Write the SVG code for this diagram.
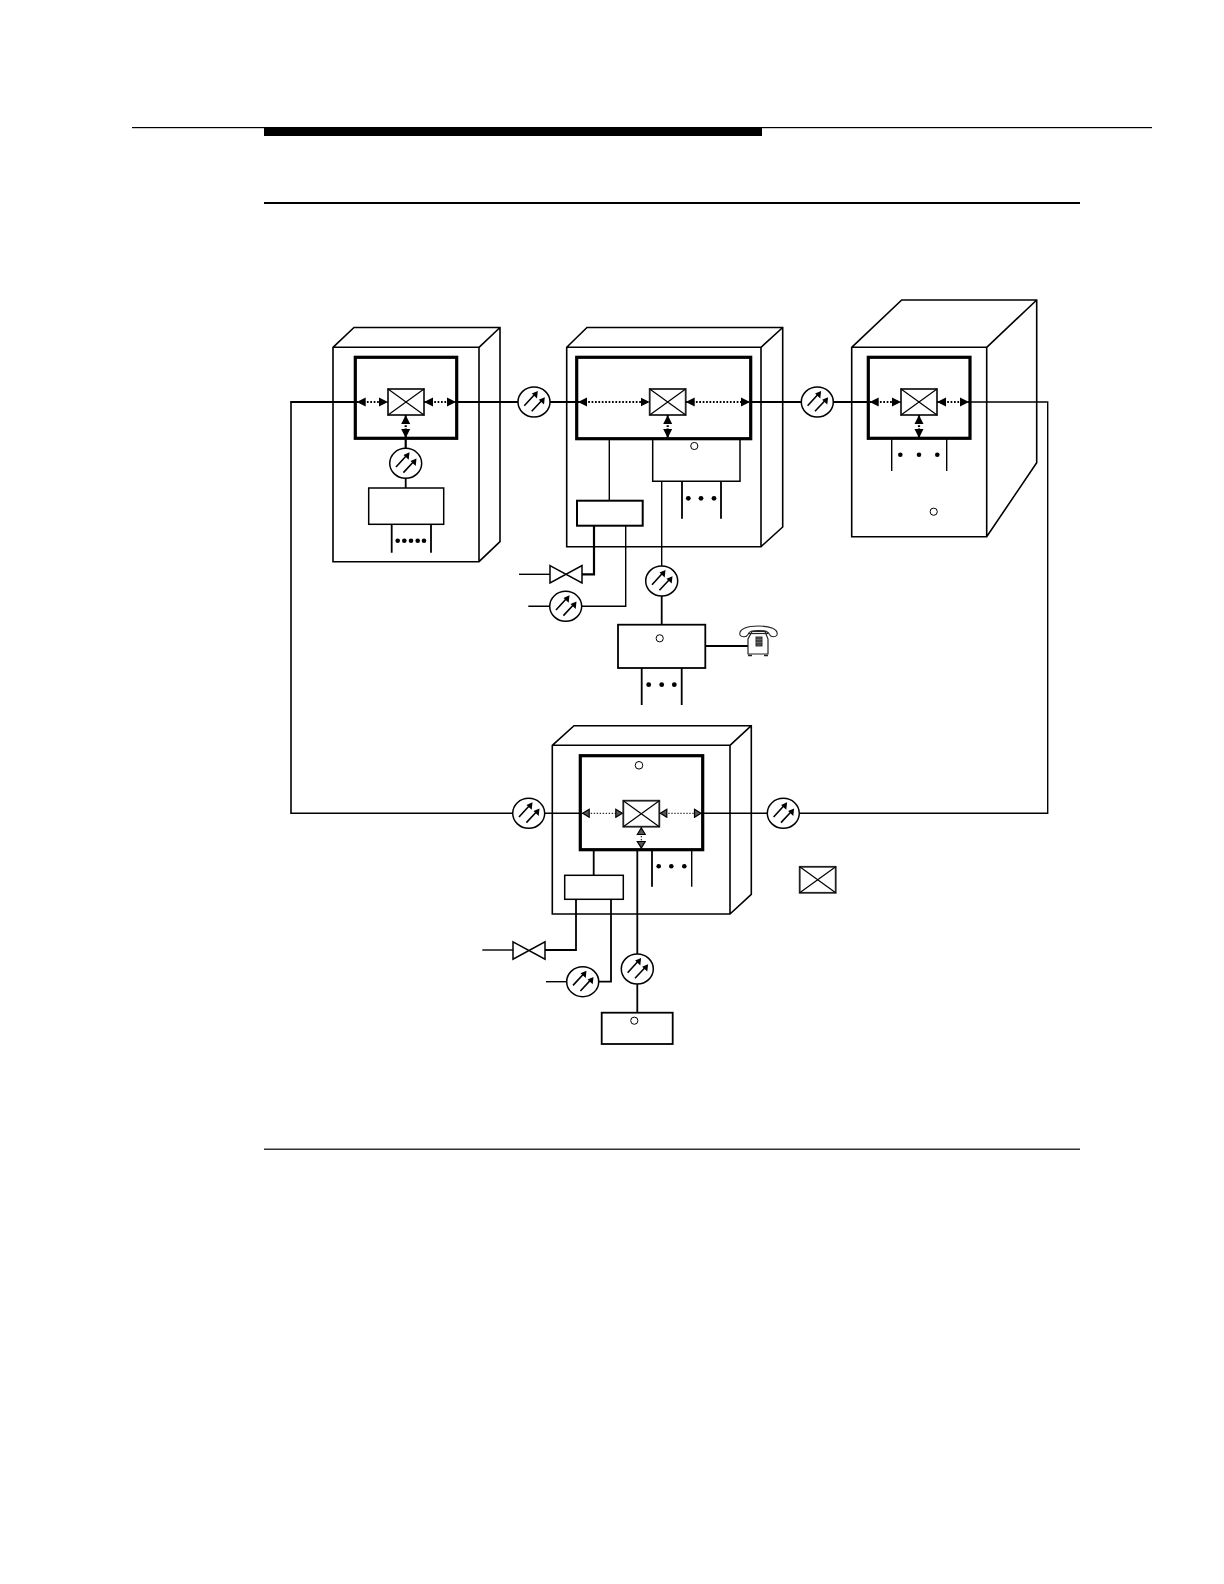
<svg xmlns="http://www.w3.org/2000/svg" width="1224" height="1584" viewBox="0 0 1224 1584">
<style>
.l{fill:none;stroke:#000;stroke-width:1.4}
.m{fill:none;stroke:#000;stroke-width:1.8}
.h{fill:none;stroke:#000;stroke-width:2.2}
.c{fill:none;stroke:#000;stroke-width:1.6}
.b{fill:#fff;stroke:#000;stroke-width:1.5}
.t{fill:none;stroke:#000;stroke-width:3.2}
.d{fill:none;stroke:#000;stroke-width:2.2;stroke-dasharray:1.7 1.7;marker-start:url(#ah);marker-end:url(#ah)}
.d2{fill:none;stroke:#000;stroke-width:1;stroke-dasharray:1.4 1.6;marker-start:url(#ah2);marker-end:url(#ah2)}
.o{fill:#fff;stroke:#000;stroke-width:1}
.dot{fill:#000}
</style>
<defs>
<marker id="ah" markerUnits="userSpaceOnUse" markerWidth="10" markerHeight="10" refX="9" refY="5" orient="auto-start-reverse"><path d="M0 .5L9 5L0 9.5Z" fill="#000"/></marker>
<marker id="ah2" markerUnits="userSpaceOnUse" markerWidth="10" markerHeight="10" refX="9" refY="5" orient="auto-start-reverse"><path d="M1.5 1L8 5L1.5 9Z" fill="#555" stroke="#000" stroke-width="1.2"/></marker>
<g id="gauge">
<ellipse rx="16" ry="15" fill="#fff" stroke="#000" stroke-width="1.5"/>
<path d="M-9.7 3.7L1.5 -8.5M-2.3 9.3L8.5 -2.3" fill="none" stroke="#000" stroke-width="1.6"/>
<path d="M3.8 -11L3 -3.6L-2.2 -8.4ZM10.8 -4.8L10 2.6L4.8 -2.2Z" fill="#000"/>
</g>
<g id="sw">
<rect x="-18" y="-13" width="36" height="26" fill="#fff" stroke="#222" stroke-width="1.8"/>
<path d="M-18 -13L18 13M18 -13L-18 13" fill="none" stroke="#000" stroke-width="1.2"/>
</g>
<path id="bow" d="M-16 -8.7L16 8.7V-8.7L-16 8.7Z" fill="#fff" stroke="#000" stroke-width="1.5"/>
</defs>

<g id="page-rules">
<rect x="132" y="127" width="1020" height="1.2" fill="#000"/>
<rect x="264" y="127" width="498" height="9" fill="#000"/>
<rect x="264" y="202" width="816" height="2" fill="#000"/>
<rect x="264" y="1148.6" width="816" height="1.2" fill="#000"/>
</g>

<g id="cabinet-1">
<path class="c" d="M333 347.3L354 327.5H500V541.7L479 561.7H333ZM333 347.3H479V561.7M479 347.3L500 327.5"/>
</g>
<g id="cabinet-2">
<path class="c" d="M566.7 347.3L587 327.5H782.7V527L761 546.7H566.7ZM566.7 347.3H761V546.7M761 347.3L782.7 327.5"/>
</g>
<g id="cabinet-3">
<path class="c" d="M851.7 347.3L901.7 300H1036.7V462.7L986.7 536.7H851.7ZM851.7 347.3H986.7V536.7M986.7 347.3L1036.7 300"/>
</g>
<g id="cabinet-4">
<path class="c" d="M552.3 745.3L574 725.7H751.3V894.3L730 914H552.3ZM552.3 745.3H730V914M730 745.3L751.3 725.7"/>
</g>

<g id="connectors">
<path class="h" d="M357 402H291"/>
<path class="c" d="M291 401V813.3H513"/>
<path class="h" d="M456 402H518M550 402H577M750 402H801M833 402H869"/>
<path class="l" d="M970 402H1047.7V813.3H799"/>
<path class="l" d="M544.7 813.3H581M702 813.3H767"/>
<path class="h" d="M405.7 438V448"/>
<path class="m" d="M405.7 478V488"/>
<path class="l" d="M609.3 438V500.7"/>
<path class="h" d="M594 525.7V574.3H582"/>
<path class="l" d="M550 574.3H519"/>
<path class="l" d="M625.7 525.7V606.3H581.7M549.7 606.3H528.3"/>
<path class="l" d="M661.7 481V566"/>
<path class="m" d="M661.7 596V624.7"/>
<path class="m" d="M705.3 646H748"/>
<path class="m" d="M593.7 850V875.3"/>
<path class="m" d="M576 899.3V950H544.7"/>
<path class="l" d="M513 950H482.3"/>
<path class="m" d="M611 899.3V981.7H598.7"/>
<path class="l" d="M566.7 981.7H546"/>
<path class="m" d="M637.3 850V954M637.3 984V1012.7"/>
</g>

<g id="node-1">
<rect class="t" x="355.3" y="357.3" width="101.4" height="81"/>
<use href="#sw" x="406" y="402"/>
<line class="d" x1="356.7" y1="402" x2="388" y2="402"/>
<line class="d" x1="424" y1="402" x2="456" y2="402"/>
<line class="d" x1="405.7" y1="415" x2="405.7" y2="438"/>
<use href="#gauge" x="405.7" y="463.3"/>
<rect class="b" x="368.7" y="488" width="75" height="36.3"/>
<path class="m" d="M391.7 524.3V552.7M431 524.3V552.7"/>
<g class="dot"><circle cx="397.7" cy="540.7" r="2.3"/><circle cx="404.3" cy="540.7" r="2.3"/><circle cx="411" cy="540.7" r="2.3"/><circle cx="417.7" cy="540.7" r="2.3"/><circle cx="424" cy="540.7" r="2.3"/></g>
</g>
<use id="gauge-1-2" href="#gauge" x="534" y="402"/>

<g id="node-2">
<rect class="t" x="576.7" y="357.3" width="174" height="81.4"/>
<use href="#sw" x="667.7" y="402"/>
<line class="d" x1="578" y1="402" x2="649.7" y2="402"/>
<line class="d" x1="685.7" y1="402" x2="750" y2="402"/>
<line class="d" x1="667.7" y1="415" x2="667.7" y2="438"/>
<path class="b" style="fill:none" d="M652.7 438V481.3H740V438"/>
<circle class="o" cx="694.3" cy="446" r="3.6"/>
<path class="m" d="M682 481.3V518.7M721 481.3V518.7"/>
<g class="dot"><circle cx="688.3" cy="498.3" r="2.4"/><circle cx="701" cy="498.3" r="2.4"/><circle cx="714" cy="498.3" r="2.4"/></g>
<rect class="b" style="stroke-width:2" x="577" y="500.7" width="65.7" height="25"/>
</g>
<use id="gauge-2-3" href="#gauge" x="817.3" y="402"/>
<use id="valve-2" href="#bow" x="566" y="574.3"/>
<use id="gauge-2a" href="#gauge" x="565.7" y="606.3"/>
<use id="gauge-2b" href="#gauge" x="661.7" y="581"/>

<g id="terminal-box">
<rect class="b" style="stroke-width:1.8" x="618" y="624.7" width="87.3" height="43.3"/>
<circle class="o" cx="659.7" cy="638.3" r="3.6"/>
<path class="m" d="M641.7 668V705M681.7 668V705"/>
<g class="dot"><circle cx="648.7" cy="684.7" r="2.4"/><circle cx="661.7" cy="684.7" r="2.4"/><circle cx="674.3" cy="684.7" r="2.4"/></g>
</g>

<g id="telephone">
<path d="M740 635C738.5 629 747 626 758.5 626C770 626 778.5 629 777 635C775.5 637.5 771 637.5 769.5 634.5C768.5 631 765 630.5 758.5 630.5C752 630.5 749 631 748 634.5C746.5 637.5 741.5 637.5 740 635Z" fill="#fff" stroke="#222" stroke-width="1.1"/>
<path d="M752 631.5H765L768 639V654H748V639Z" fill="#fff" stroke="#222" stroke-width="1.2"/>
<path d="M749 633.5H768" stroke="#222" stroke-width="1.2"/>
<rect x="755.5" y="636.5" width="7" height="10" fill="#333"/>
<path d="M756 639.5H762M756 642.5H762M758 637V646M760 637V646" stroke="#888" stroke-width=".5"/>
<path d="M748 655.5H752M764 655.5H768" stroke="#222" stroke-width="1.6"/>
</g>

<g id="node-3">
<rect class="t" x="868.3" y="357.3" width="101.7" height="81"/>
<use href="#sw" x="919" y="402"/>
<line class="d" x1="869.7" y1="402" x2="901" y2="402"/>
<line class="d" x1="937" y1="402" x2="969" y2="402"/>
<line class="d" x1="919" y1="415" x2="919" y2="438"/>
<path class="l" d="M891.7 438V471M946.7 438V471"/>
<g class="dot"><circle cx="900.3" cy="454.7" r="2.3"/><circle cx="919" cy="454.7" r="2.3"/><circle cx="937.3" cy="454.7" r="2.3"/></g>
<circle class="o" cx="933.7" cy="511.7" r="3.6"/>
</g>

<g id="node-4">
<rect class="t" x="580.3" y="755.7" width="122.4" height="94"/>
<circle class="o" cx="639" cy="765.3" r="3.8"/>
<use href="#sw" x="641.3" y="813.7"/>
<line class="d2" x1="581.7" y1="813.3" x2="623.3" y2="813.3"/>
<line class="d2" x1="659.3" y1="813.3" x2="702" y2="813.3"/>
<line class="d2" x1="641.3" y1="827" x2="641.3" y2="849"/>
<path class="m" d="M652 850V886.7"/>
<path class="l" d="M691.7 850V886.7"/>
<g class="dot"><circle cx="658.7" cy="866.3" r="2.3"/><circle cx="671.3" cy="866.3" r="2.3"/><circle cx="684.3" cy="866.3" r="2.3"/></g>
<rect class="b" x="564.7" y="875.3" width="58.6" height="24"/>
</g>
<use id="gauge-4l" href="#gauge" x="528.7" y="813.3"/>
<use id="gauge-4r" href="#gauge" x="783.3" y="813.3"/>
<use id="valve-4" href="#bow" x="529" y="950.5"/>
<use id="gauge-4a" href="#gauge" x="582.7" y="981.7"/>
<use id="gauge-4b" href="#gauge" x="637.3" y="969"/>

<g id="remote-box">
<rect class="b" style="stroke-width:1.8" x="601.7" y="1012.7" width="71" height="31.3"/>
<circle class="o" cx="634.3" cy="1020.7" r="3.6"/>
</g>

<use id="legend-switch" href="#sw" x="817.7" y="879.8"/>
</svg>
